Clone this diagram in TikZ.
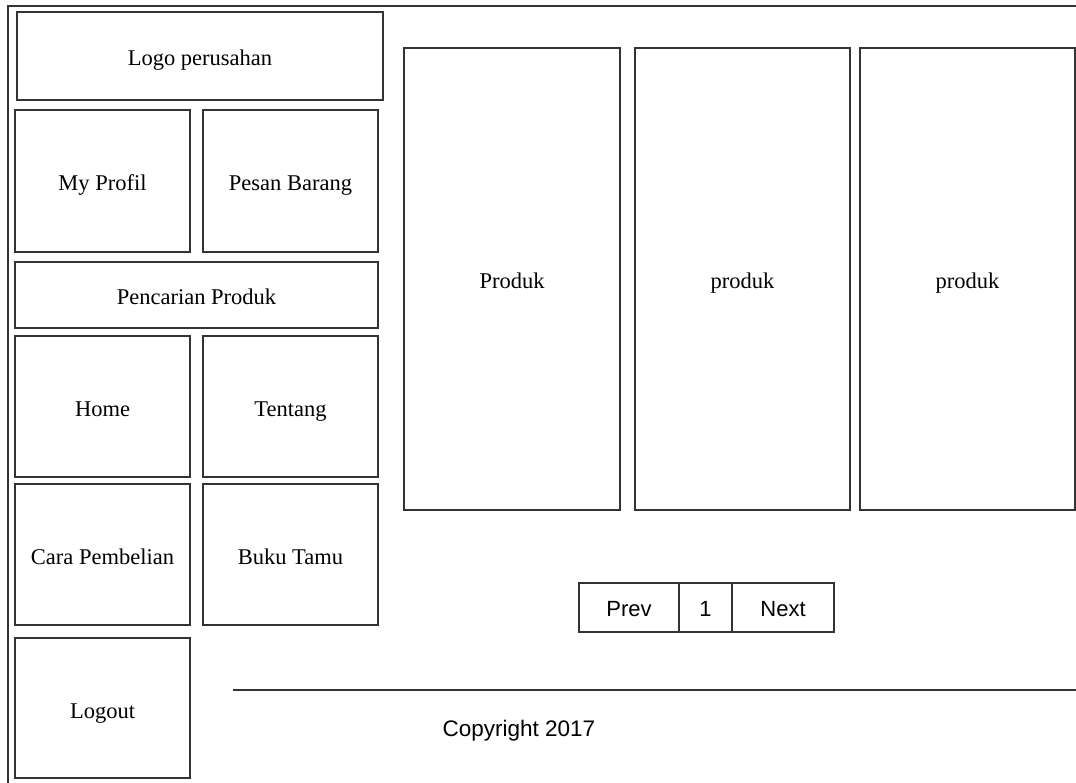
\documentclass[tikz,border=0pt]{standalone}
\usepackage{fontspec}
\setmainfont{Liberation Serif}
\newfontfamily\arialfont{Liberation Sans}
\begin{document}
\begin{tikzpicture}[x=1pt,y=-1pt,
  wire/.style={line width=1.2pt, draw=black!80},
  box/.style={wire, rectangle, inner sep=0pt, text height=20pt, text depth=0pt, font=\fontsize{22.5}{26}\selectfont},
  pg/.style={wire, rectangle, inner sep=0pt, text height=18pt, text depth=0pt, minimum height=49pt, font=\arialfont\fontsize{22}{26}\selectfont}]
\useasboundingbox (0,0) rectangle (1076,783);
\clip (0,0) rectangle (1076,783);
% outer frame
\coordinate (fbl) at (8,790);
\coordinate (ftl) at (8,6);
\coordinate (ftr) at (1080,6);
\draw[wire] (fbl) -- (ftl) -- (ftr);
% left column
\node[box, minimum width=366pt, minimum height=88pt] (logo) at (200,56) {Logo perusahan};
\node[box, minimum width=175pt, minimum height=142pt] (profil) at (102.5,181) {My Profil};
\node[box, minimum width=175pt, minimum height=142pt] (pesan) at (290.5,181) {Pesan Barang};
\node[box, minimum width=363pt, minimum height=66pt] (cari) at (196.5,295) {Pencarian Produk};
\node[box, minimum width=175pt, minimum height=141pt] (home) at (102.5,406.5) {Home};
\node[box, minimum width=175pt, minimum height=141pt] (tentang) at (290.5,406.5) {Tentang};
\node[box, minimum width=175pt, minimum height=141pt] (cara) at (102.5,554.5) {Cara Pembelian};
\node[box, minimum width=175pt, minimum height=141pt] (buku) at (290.5,554.5) {Buku Tamu};
\node[box, minimum width=175pt, minimum height=140pt] (logout) at (102.5,708) {Logout};
% products
\node[box, minimum width=216pt, minimum height=462pt] (p1) at (512,279) {Produk};
\node[box, minimum width=215pt, minimum height=462pt] (p2) at (742.5,279) {produk};
\node[box, minimum width=215pt, minimum height=462pt] (p3) at (967.5,279) {produk};
% pagination
\node[pg, minimum width=100pt] (prev) at (629,607.5) {Prev};
\node[pg, minimum width=53pt] (one) at (705.5,607.5) {1};
\node[pg, minimum width=102pt] (next) at (783,607.5) {Next};
% footer
\coordinate (la) at (233,690);
\coordinate (lb) at (1080,690);
\draw[wire] (la) -- (lb);
\node[font=\arialfont\fontsize{22.5}{26}\selectfont, inner sep=0pt, text height=18pt, text depth=0pt] (copy) at (519,727) {Copyright 2017};
\end{tikzpicture}
\end{document}
